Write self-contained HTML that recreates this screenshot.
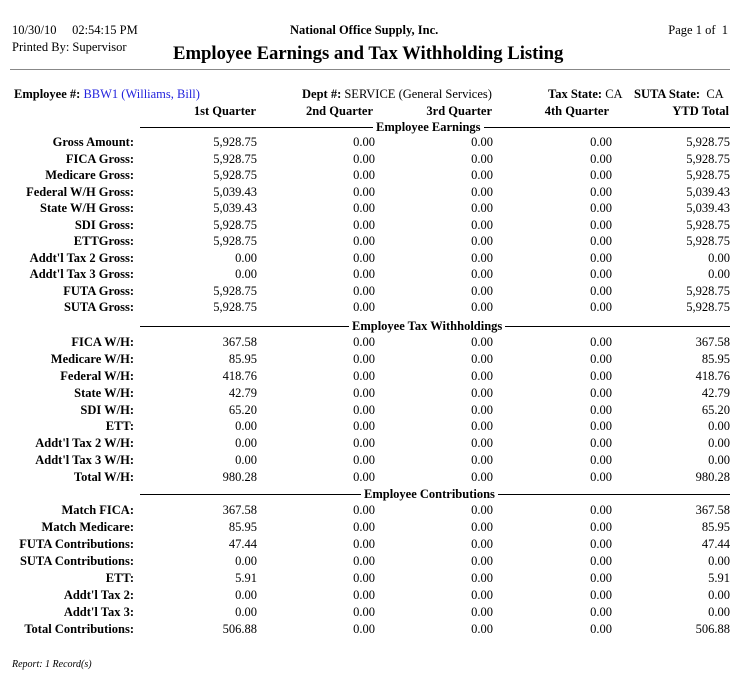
<!DOCTYPE html>
<html><head><meta charset="utf-8"><style>
body{margin:0;width:738px;height:687px;background:#fff;position:relative;font-family:"Liberation Serif",serif;font-size:12.5px;color:#000;overflow:hidden}
.a{position:absolute;white-space:nowrap;line-height:16px}
.r{position:absolute;left:0;width:738px;height:16px;line-height:16px}
.r span{position:absolute;top:0;text-align:right;white-space:nowrap}
.l{right:604px;font-weight:bold}
.c1{right:481px}.c2{right:363px}.c3{right:245px}.c4{right:126px}.c5{right:8px}
.b{font-weight:bold}
.sec{position:absolute;left:140px;width:590px;height:1px;background:#000}
.st{position:absolute;background:#fff;font-weight:bold;padding:0 3px;line-height:16px;white-space:nowrap}
</style></head><body>
<div class="a" style="left:12px;top:22px">10/30/10&nbsp;&nbsp;&nbsp;&nbsp;&nbsp;02:54:15 PM</div>
<div class="a" style="left:12px;top:39px">Printed By: Supervisor</div>
<div class="a b" style="left:290px;top:22px">National Office Supply, Inc.</div>
<div class="a" style="right:10px;top:22px">Page 1 of &nbsp;1</div>
<div class="a b" style="left:173px;top:42px;font-size:18.7px;line-height:24px">Employee Earnings and Tax Withholding Listing</div>
<div style="position:absolute;left:10px;top:69px;width:720px;height:1px;background:#888"></div>
<div class="a" style="left:14px;top:86px"><b>Employee #:</b> <span style="color:#2222dd">BBW1 (Williams, Bill)</span></div>
<div class="a" style="left:302px;top:86px"><b>Dept #:</b> SERVICE (General Services)</div>
<div class="a" style="left:548px;top:86px"><b>Tax State:</b> CA</div>
<div class="a" style="left:634px;top:86px"><b>SUTA State:</b>&nbsp; CA</div>
<div class="r b" style="top:103px"><span style="right:482px">1st Quarter</span><span style="right:365px">2nd Quarter</span><span style="right:246px">3rd Quarter</span><span style="right:129px">4th Quarter</span><span style="right:9px">YTD Total</span></div>

<div class="sec" style="top:127px"></div><div class="st" style="left:373px;top:119px">Employee Earnings</div>
<div class="r" style="top:134px"><span class="l">Gross Amount:</span><span class="c1">5,928.75</span><span class="c2">0.00</span><span class="c3">0.00</span><span class="c4">0.00</span><span class="c5">5,928.75</span></div>
<div class="r" style="top:150.5px"><span class="l">FICA Gross:</span><span class="c1">5,928.75</span><span class="c2">0.00</span><span class="c3">0.00</span><span class="c4">0.00</span><span class="c5">5,928.75</span></div>
<div class="r" style="top:167px"><span class="l">Medicare Gross:</span><span class="c1">5,928.75</span><span class="c2">0.00</span><span class="c3">0.00</span><span class="c4">0.00</span><span class="c5">5,928.75</span></div>
<div class="r" style="top:183.5px"><span class="l">Federal W/H Gross:</span><span class="c1">5,039.43</span><span class="c2">0.00</span><span class="c3">0.00</span><span class="c4">0.00</span><span class="c5">5,039.43</span></div>
<div class="r" style="top:200px"><span class="l">State W/H Gross:</span><span class="c1">5,039.43</span><span class="c2">0.00</span><span class="c3">0.00</span><span class="c4">0.00</span><span class="c5">5,039.43</span></div>
<div class="r" style="top:216.5px"><span class="l">SDI Gross:</span><span class="c1">5,928.75</span><span class="c2">0.00</span><span class="c3">0.00</span><span class="c4">0.00</span><span class="c5">5,928.75</span></div>
<div class="r" style="top:233px"><span class="l">ETTGross:</span><span class="c1">5,928.75</span><span class="c2">0.00</span><span class="c3">0.00</span><span class="c4">0.00</span><span class="c5">5,928.75</span></div>
<div class="r" style="top:249.5px"><span class="l">Addt'l Tax 2 Gross:</span><span class="c1">0.00</span><span class="c2">0.00</span><span class="c3">0.00</span><span class="c4">0.00</span><span class="c5">0.00</span></div>
<div class="r" style="top:266px"><span class="l">Addt'l Tax 3 Gross:</span><span class="c1">0.00</span><span class="c2">0.00</span><span class="c3">0.00</span><span class="c4">0.00</span><span class="c5">0.00</span></div>
<div class="r" style="top:282.5px"><span class="l">FUTA Gross:</span><span class="c1">5,928.75</span><span class="c2">0.00</span><span class="c3">0.00</span><span class="c4">0.00</span><span class="c5">5,928.75</span></div>
<div class="r" style="top:299px"><span class="l">SUTA Gross:</span><span class="c1">5,928.75</span><span class="c2">0.00</span><span class="c3">0.00</span><span class="c4">0.00</span><span class="c5">5,928.75</span></div>

<div class="sec" style="top:326px"></div><div class="st" style="left:349px;top:318px">Employee Tax Withholdings</div>
<div class="r" style="top:334px"><span class="l">FICA W/H:</span><span class="c1">367.58</span><span class="c2">0.00</span><span class="c3">0.00</span><span class="c4">0.00</span><span class="c5">367.58</span></div>
<div class="r" style="top:351px"><span class="l">Medicare W/H:</span><span class="c1">85.95</span><span class="c2">0.00</span><span class="c3">0.00</span><span class="c4">0.00</span><span class="c5">85.95</span></div>
<div class="r" style="top:368px"><span class="l">Federal W/H:</span><span class="c1">418.76</span><span class="c2">0.00</span><span class="c3">0.00</span><span class="c4">0.00</span><span class="c5">418.76</span></div>
<div class="r" style="top:384.5px"><span class="l">State W/H:</span><span class="c1">42.79</span><span class="c2">0.00</span><span class="c3">0.00</span><span class="c4">0.00</span><span class="c5">42.79</span></div>
<div class="r" style="top:401.5px"><span class="l">SDI W/H:</span><span class="c1">65.20</span><span class="c2">0.00</span><span class="c3">0.00</span><span class="c4">0.00</span><span class="c5">65.20</span></div>
<div class="r" style="top:418px"><span class="l">ETT:</span><span class="c1">0.00</span><span class="c2">0.00</span><span class="c3">0.00</span><span class="c4">0.00</span><span class="c5">0.00</span></div>
<div class="r" style="top:435px"><span class="l">Addt'l Tax 2 W/H:</span><span class="c1">0.00</span><span class="c2">0.00</span><span class="c3">0.00</span><span class="c4">0.00</span><span class="c5">0.00</span></div>
<div class="r" style="top:452px"><span class="l">Addt'l Tax 3 W/H:</span><span class="c1">0.00</span><span class="c2">0.00</span><span class="c3">0.00</span><span class="c4">0.00</span><span class="c5">0.00</span></div>
<div class="r" style="top:469px"><span class="l">Total W/H:</span><span class="c1">980.28</span><span class="c2">0.00</span><span class="c3">0.00</span><span class="c4">0.00</span><span class="c5">980.28</span></div>

<div class="sec" style="top:494px"></div><div class="st" style="left:361px;top:486px">Employee Contributions</div>
<div class="r" style="top:502px"><span class="l">Match FICA:</span><span class="c1">367.58</span><span class="c2">0.00</span><span class="c3">0.00</span><span class="c4">0.00</span><span class="c5">367.58</span></div>
<div class="r" style="top:519px"><span class="l">Match Medicare:</span><span class="c1">85.95</span><span class="c2">0.00</span><span class="c3">0.00</span><span class="c4">0.00</span><span class="c5">85.95</span></div>
<div class="r" style="top:536px"><span class="l">FUTA Contributions:</span><span class="c1">47.44</span><span class="c2">0.00</span><span class="c3">0.00</span><span class="c4">0.00</span><span class="c5">47.44</span></div>
<div class="r" style="top:553px"><span class="l">SUTA Contributions:</span><span class="c1">0.00</span><span class="c2">0.00</span><span class="c3">0.00</span><span class="c4">0.00</span><span class="c5">0.00</span></div>
<div class="r" style="top:570px"><span class="l">ETT:</span><span class="c1">5.91</span><span class="c2">0.00</span><span class="c3">0.00</span><span class="c4">0.00</span><span class="c5">5.91</span></div>
<div class="r" style="top:587px"><span class="l">Addt'l Tax 2:</span><span class="c1">0.00</span><span class="c2">0.00</span><span class="c3">0.00</span><span class="c4">0.00</span><span class="c5">0.00</span></div>
<div class="r" style="top:604px"><span class="l">Addt'l Tax 3:</span><span class="c1">0.00</span><span class="c2">0.00</span><span class="c3">0.00</span><span class="c4">0.00</span><span class="c5">0.00</span></div>
<div class="r" style="top:621px"><span class="l">Total Contributions:</span><span class="c1">506.88</span><span class="c2">0.00</span><span class="c3">0.00</span><span class="c4">0.00</span><span class="c5">506.88</span></div>

<div class="a" style="left:12px;top:657px;font-size:10px;font-style:italic">Report: 1 Record(s)</div>
</body></html>
